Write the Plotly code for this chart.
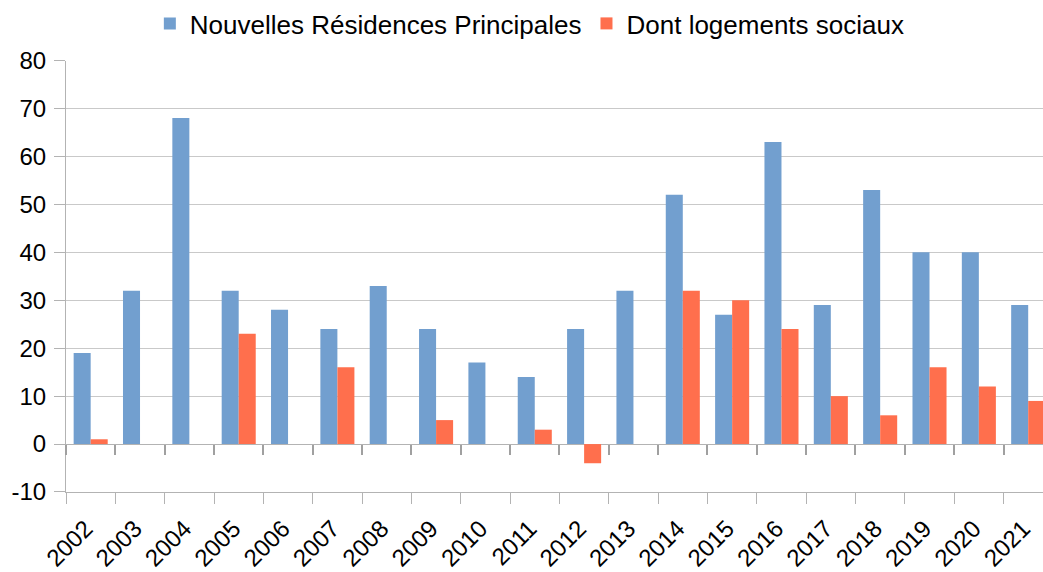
import plotly.graph_objects as go

# Annual figures per year
years = [str(y) for y in range(2002, 2022)]
nouvelles_rp = [19, 32, 68, 32, 28, 24, 33, 24, 17, 14, 24, 32, 52, 27, 63, 29, 53, 40, 40, 29]
logements_sociaux = [1, 0, 0, 23, 0, 16, 0, 5, 0, 3, -4, 0, 32, 30, 24, 10, 6, 16, 12, 9]

y_ticks = [-10, 0, 10, 20, 30, 40, 50, 60, 70, 80]
y_tick_text = [str(v) for v in y_ticks]  # plain hyphen for negatives

BLUE = "#729fcf"
ORANGE = "#ff6f4d"
GRID = "#c9c9c9"
AXIS = "#b3b3b3"
FONT = "Liberation Sans, Arial, sans-serif"

fig = go.Figure()
fig.add_trace(go.Bar(
    x=years, y=nouvelles_rp, name="Nouvelles Résidences Principales",
    marker=dict(color=BLUE, line=dict(width=0)),
))
fig.add_trace(go.Bar(
    x=years, y=logements_sociaux, name="Dont logements sociaux",
    marker=dict(color=ORANGE, line=dict(width=0)),
))
# carrier trace for the secondary axis that draws the ticks along the zero line
fig.add_trace(go.Scatter(
    x=years, y=nouvelles_rp, xaxis="x2", yaxis="y", mode="markers",
    marker=dict(opacity=0), showlegend=False, hoverinfo="skip",
))

x_range = [-0.5, 19.3]

fig.update_layout(
    width=1043, height=572, autosize=False,
    margin=dict(l=66, r=0, t=59, b=79),
    paper_bgcolor="white", plot_bgcolor="white",
    font=dict(family=FONT, size=24, color="black"),
    barmode="group", bargap=0.31, bargroupgap=0,
    legend=dict(
        orientation="h", xref="container", yref="container",
        x=0.508, xanchor="center", y=1.0, yanchor="top",
        font=dict(size=26), itemwidth=30, traceorder="normal",
    ),
    xaxis=dict(
        type="category", categoryorder="array", categoryarray=years,
        range=x_range, tickson="boundaries", ticks="outside", ticklen=11,
        tickcolor=AXIS, tickwidth=1, showgrid=False,
        showline=True, linecolor=AXIS, linewidth=1,
        tickangle=-45, tickfont=dict(size=24),
        ticklabelstandoff=12, ticklabelshift=-5,
    ),
    xaxis2=dict(
        type="category", categoryorder="array", categoryarray=years,
        overlaying="x", anchor="free", position=10 / 90, side="bottom",
        range=x_range, tickson="boundaries", ticks="outside", ticklen=10,
        tickcolor="#a0a0a0", tickwidth=1.5, showgrid=False, showline=False,
        showticklabels=False, layer="above traces",
    ),
    yaxis=dict(
        range=[-10, 80], tickmode="array", tickvals=y_ticks, ticktext=y_tick_text,
        ticks="outside", ticklen=11,
        tickcolor=AXIS, tickwidth=1, showgrid=True, gridcolor=GRID, gridwidth=1,
        showline=True, linecolor=AXIS, linewidth=1,
        zeroline=True, zerolinecolor=AXIS, zerolinewidth=1,
        tickfont=dict(size=24), ticklabelstandoff=3,
    ),
)

fig.write_html("out.html")
